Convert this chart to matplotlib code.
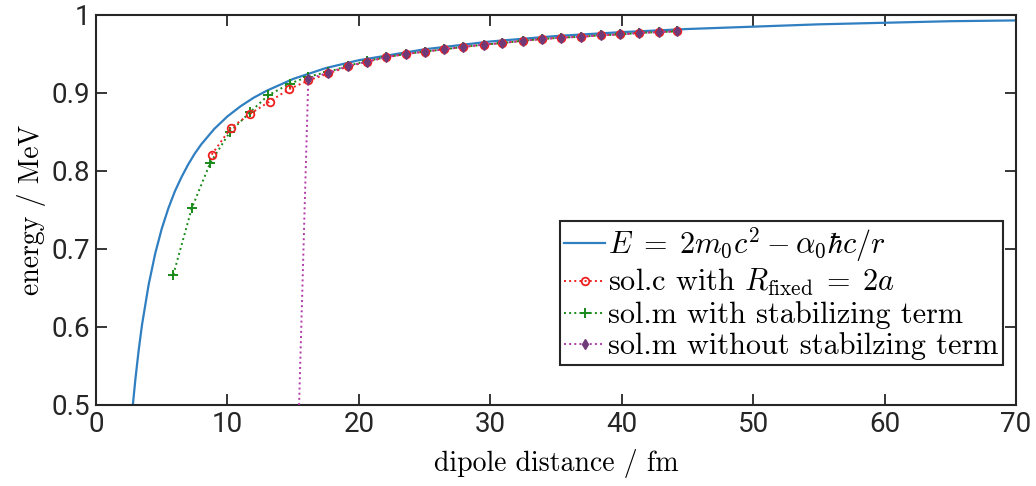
import matplotlib
matplotlib.use('Agg')
import matplotlib.pyplot as plt

# values
r_ref = [2.8, 3.0, 3.25, 3.5, 4.0, 4.5, 5.0, 5.5, 6.0, 6.5, 7.0, 7.5, 8.0, 9.0, 10.0, 11.0, 12.0, 13.0,
         15.0, 17.5, 20.0, 25.0, 30.0, 35.0, 40.0, 45.0, 50.0, 55.0, 60.0, 65.0, 70.0]
E_ref = [0.500, 0.534, 0.571, 0.603, 0.654, 0.694, 0.726, 0.752, 0.774, 0.792, 0.808, 0.822, 0.834,
         0.854, 0.870, 0.883, 0.894, 0.903, 0.918, 0.932, 0.942, 0.956, 0.966, 0.973, 0.978, 0.982,
         0.985, 0.988, 0.990, 0.992, 0.993]

r_solc = [8.8, 10.25, 11.7, 13.2, 14.7, 16.15, 17.67, 19.2, 20.6, 22.1, 23.6, 25.0, 26.5,
          27.95, 29.5, 30.9, 32.5, 33.9, 35.4, 36.9, 38.4, 39.9, 41.3, 42.8, 44.2]
E_solc = [0.821, 0.855, 0.873, 0.889, 0.905, 0.916, 0.925, 0.934, 0.940, 0.946, 0.950, 0.953, 0.956,
          0.959, 0.962, 0.964, 0.967, 0.969, 0.971, 0.972, 0.974, 0.975, 0.977, 0.978, 0.979]

r_stab = [5.88, 7.28, 8.68, 10.19, 11.7, 13.1, 14.76, 16.15, 17.67, 19.2, 20.6, 22.1, 23.6, 25.0, 26.5,
          27.95, 29.5, 30.9, 32.5, 33.9, 35.4, 36.9, 38.4, 39.9, 41.3, 42.8, 44.2]
E_stab = [0.667, 0.752, 0.810, 0.850, 0.875, 0.897, 0.912, 0.921, 0.927, 0.935, 0.941, 0.946, 0.950,
          0.953, 0.956, 0.959, 0.962, 0.964, 0.967, 0.969, 0.971, 0.972, 0.974, 0.975, 0.977, 0.978, 0.979]

r_nostab = [15.45, 16.15, 17.67, 19.2, 20.6, 22.1, 23.6, 25.0, 26.5, 27.95, 29.5, 30.9, 32.5, 33.9,
            35.4, 36.9, 38.4, 39.9, 41.3, 42.8, 44.2]
E_nostab = [0.500, 0.918, 0.926, 0.935, 0.940, 0.946, 0.950, 0.953, 0.956, 0.959, 0.962, 0.964, 0.967,
            0.969, 0.971, 0.972, 0.974, 0.975, 0.977, 0.978, 0.979]

plt.rcParams['mathtext.fontset'] = 'cm'

fig = plt.figure(figsize=(10.36, 4.86), dpi=100)
ax = fig.add_axes([0.0927, 0.1667, 0.888, 0.8025])

ax.plot(r_ref, E_ref, color='#2f7fc1', lw=1.6, label=r'$E\;=\;2m_0c^2 - \alpha_0\hbar c/r$', zorder=2)
ax.plot(r_stab, E_stab, color='#1a8a1a', ls=':', lw=1.4, marker='+', ms=7, mew=1.4,
        label='sol.m with stabilizing term', zorder=3)
ax.plot(r_solc, E_solc, color='#ee2020', ls=':', lw=1.4, marker='o', ms=5.5, mfc='none', mew=1.3,
        label=r'sol.c with $R_{\mathrm{fixed}}\;=\;2a$', zorder=4)
ax.plot(r_nostab, E_nostab, color='#b03aa8', ls=':', lw=1.4, marker='d', ms=5,
        mfc='#6e3a78', mec='#6e3a78', markevery=list(range(1, len(r_nostab))),
        label='sol.m without stabilzing term', zorder=5)

ax.set_xlim(0, 70)
ax.set_ylim(0.5, 1.0)
ax.set_xticks(range(0, 71, 10))
ax.set_yticks([0.5, 0.6, 0.7, 0.8, 0.9, 1.0])
ax.set_yticklabels(['0.5', '0.6', '0.7', '0.8', '0.9', '1'])
ax.tick_params(direction='in', top=True, right=True, length=8, width=1.3, color='#262626',
               labelsize=20, pad=4)
for lab in ax.get_xticklabels() + ax.get_yticklabels():
    lab.set_fontfamily('Roboto')
    lab.set_color('#262626')
for sp in ax.spines.values():
    sp.set_linewidth(1.5)
    sp.set_color('#262626')

ax.set_xlabel('dipole distance / fm', fontsize=20, family='cmr10', labelpad=8)
ax.set_ylabel('energy / MeV', fontsize=20, family='cmr10', labelpad=4)

handles, labels = ax.get_legend_handles_labels()
order = [0, 2, 1, 3]
leg = ax.legend([handles[i] for i in order], [labels[i] for i in order],
                loc='lower right', bbox_to_anchor=(0.986, 0.103), borderaxespad=0,
                prop={'family': 'cmr10', 'size': 21.8}, handlelength=1.35, handletextpad=0.1,
                borderpad=0.15, labelspacing=0.1, fancybox=False, framealpha=1,
                edgecolor='#262626')
leg.get_frame().set_linewidth(1.5)

plt.savefig('out.png', dpi=100)
plt.close()
